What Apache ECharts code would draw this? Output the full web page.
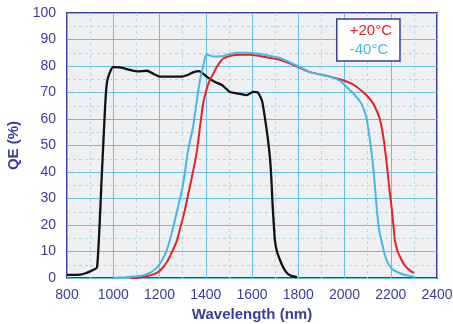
<!DOCTYPE html>
<html><head><meta charset="utf-8">
<script src="https://cdn.jsdelivr.net/npm/echarts@6/dist/echarts.min.js"></script>
<style>html,body{margin:0;padding:0;background:#fff}#c{width:453px;height:324px}</style>
</head><body><div id="c"></div>
<script>
const xTicks = [800, 1000, 1200, 1400, 1600, 1800, 2000, 2200, 2400];
const yTicks = [0, 10, 20, 30, 40, 50, 60, 70, 80, 90, 100];
const seriesNames = ['+20°C', '-40°C'];
// Black curve (unlabelled detector)
const blackCurve = [
  [800,1.2],[856,1.3],[880,1.8],[900,2.5],[930,4],[950,38],[965,65],[973,74],[985,77.5],[999,79.6],
  [1030,79.5],[1051,79],[1103,78],[1146,78.2],[1175,77],[1202,76],[1260,76],[1297,76],[1318,76.5],
  [1345,77.6],[1371,78.1],[1390,77],[1405,75.9],[1440,74],[1470,72.8],[1505,70.2],[1540,69.6],
  [1578,69],[1604,70.2],[1625,70],[1643,67],[1655,61],[1668,53],[1678,45],[1684,37],[1688,29.4],
  [1693,22],[1699,14.3],[1708,10],[1721,6.8],[1735,4],[1751,1.9],[1770,0.8],[1794,0.3]
];
// +20°C curve
const warmCurve = [
  [1072,0],[1100,0.1],[1129,0.4],[1160,1],[1189,1.9],[1210,3.5],[1232,6],[1255,10],[1276,14.3],
  [1293,20],[1310,25.7],[1325,32],[1340,38],[1362,48],[1375,57],[1389,66],[1400,70],[1410,73],
  [1420,75],[1432,77],[1447,79.5],[1462,81.5],[1476,82.8],[1490,83.4],[1505,83.8],[1550,84.2],
  [1591,84.2],[1650,83.5],[1721,82.3],[1790,80],[1851,77.7],[1937,76],[1980,75],[2024,73.6],
  [2055,72],[2080,70.2],[2100,68.5],[2123,66],[2140,63],[2154,59.6],[2170,52],[2184,42],[2195,33],
  [2205,25.7],[2212,19.5],[2218,14.3],[2228,10.5],[2240,8],[2255,5.5],[2270,3.8],[2285,2.7],[2300,1.9]
];
// -40°C curve
const coldCurve = [
  [1000,0],[1051,0.3],[1100,0.7],[1129,1],[1160,2],[1189,4],[1210,6.5],[1232,10.6],[1250,16],
  [1267,22],[1282,27.5],[1297,33],[1310,40],[1323,48],[1335,53],[1345,57],[1360,66],[1375,74.7],
  [1390,80.5],[1398,83.5],[1405,84.4],[1415,84],[1432,83.6],[1470,83.7],[1505,84.5],[1540,85],
  [1578,85],[1620,84.7],[1650,84.3],[1721,83],[1790,80.3],[1851,77.7],[1937,76],[1980,74.5],
  [2010,72],[2035,70],[2054,68],[2068,66.5],[2080,64.5],[2090,62],[2097,59.6],[2110,52],[2124,42],
  [2133,33],[2140,25.7],[2150,18],[2162,13.2],[2175,8.5],[2188,5.7],[2205,3.5],[2227,2.3],
  [2250,1.4],[2270,1],[2305,0.4]
];
const axisColor = '#3b3c9c';
const gridBlue = '#66c0e2';
const chart = echarts.init(document.getElementById('c'), null, {renderer:'canvas'});
chart.setOption({
  animation: false,
  textStyle: {fontFamily: 'Liberation Sans, Arial, sans-serif'},
  grid: {left: 67, right: 16, top: 13, bottom: 46, show: true, outerBoundsMode: 'none',
         containLabel: false,
         backgroundColor: '#eef0f2', borderColor: axisColor, borderWidth: 2},
  legend: {
    right: 53, top: 19, orient: 'vertical', icon: 'none', itemWidth: 0, itemGap: 4,
    backgroundColor: '#fff', borderColor: axisColor, borderWidth: 1.5,
    padding: [4, 8, 4, 8], selectedMode: false,
    textStyle: {fontSize: 15},
    data: [
      {name: seriesNames[0], textStyle: {color: '#e8202a'}},
      {name: seriesNames[1], textStyle: {color: '#45b8e6'}}
    ]
  },
  xAxis: {
    type: 'value', min: xTicks[0], max: xTicks[xTicks.length-1], interval: 200,
    name: 'Wavelength (nm)', nameLocation: 'middle', nameGap: 29,
    nameTextStyle: {color: axisColor, fontSize: 15, fontWeight: 'bold'},
    axisLine: {show: false}, axisTick: {show: false},
    axisLabel: {color: axisColor, fontSize: 14, margin: 10, formatter: v => String(v)},
    splitLine: {show: true, lineStyle: {color: gridBlue, width: 1}},
    minorTick: {show: false, splitNumber: 2},
    minorSplitLine: {show: true, lineStyle: {color: '#a9dbef', type: [3, 3], width: 1}}
  },
  yAxis: {
    type: 'value', min: yTicks[0], max: yTicks[yTicks.length-1], interval: 10,
    name: 'QE (%)', nameLocation: 'middle', nameGap: 44, nameRotate: 90,
    nameTextStyle: {color: axisColor, fontSize: 15, fontWeight: 'bold'},
    axisLine: {show: false}, axisTick: {show: false},
    axisLabel: {color: axisColor, fontSize: 14, margin: 11},
    splitLine: {show: true, lineStyle: {color: gridBlue, width: 1}},
    minorTick: {show: false, splitNumber: 2},
    minorSplitLine: {show: true, lineStyle: {color: '#a9dbef', type: [3, 3], width: 1}}
  },
  series: [
    {type: 'line', name: 'black', data: blackCurve, showSymbol: false, smooth: 0.15,
     lineStyle: {color: '#111', width: 2.3}, z: 3},
    {type: 'line', name: seriesNames[0], data: warmCurve, showSymbol: false, smooth: 0.15,
     itemStyle: {color: '#e8202a'}, lineStyle: {color: '#e8202a', width: 2}, z: 4},
    {type: 'line', name: seriesNames[1], data: coldCurve, showSymbol: false, smooth: 0.15,
     itemStyle: {color: '#45b8e6'}, lineStyle: {color: '#45b8e6', width: 2}, z: 5}
  ]
});
</script></body></html>
